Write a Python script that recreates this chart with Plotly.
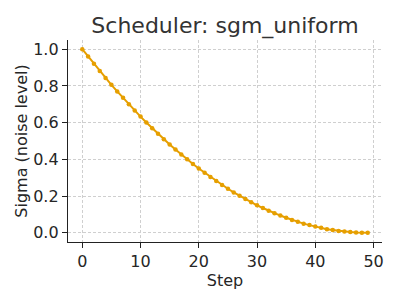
import plotly.graph_objects as go

steps = [0, 1, 2, 3, 4, 5, 6, 7, 8, 9,
         10, 11, 12, 13, 14, 15, 16, 17, 18, 19,
         20, 21, 22, 23, 24, 25, 26, 27, 28, 29,
         30, 31, 32, 33, 34, 35, 36, 37, 38, 39,
         40, 41, 42, 43, 44, 45, 46, 47, 48, 49]
sigmas = [1.000, 0.960, 0.920, 0.881, 0.843, 0.806, 0.770, 0.735, 0.700, 0.666,
          0.633, 0.601, 0.570, 0.540, 0.510, 0.481, 0.454, 0.426, 0.400, 0.375,
          0.350, 0.327, 0.304, 0.282, 0.260, 0.240, 0.220, 0.202, 0.184, 0.167,
          0.150, 0.135, 0.120, 0.107, 0.094, 0.082, 0.070, 0.060, 0.050, 0.042,
          0.034, 0.027, 0.020, 0.015, 0.010, 0.007, 0.004, 0.002, 0.000, 0.000]
x_ticks = [0, 10, 20, 30, 40, 50]
y_ticks = [0.0, 0.2, 0.4, 0.6, 0.8, 1.0]

color = "#E69F00"
font = "DejaVu Sans"
text_color = "#262626"

fig = go.Figure()
fig.add_trace(go.Scatter(
    x=steps, y=sigmas, mode="lines+markers",
    line=dict(color=color, width=2),
    marker=dict(color=color, size=4.5),
    showlegend=False,
))

axis_common = dict(
    showline=True, linecolor="#222222", linewidth=1.3,
    ticks="outside", ticklen=5, tickwidth=1.1, tickcolor="#222222",
    showgrid=True, gridcolor="#cfcfcf", gridwidth=0.8, griddash="3px,2px",
    zeroline=False, mirror=False,
    tickfont=dict(family=font, size=16, color=text_color),
)

fig.update_layout(
    width=400, height=300,
    margin=dict(l=68, r=18, t=40, b=58),
    paper_bgcolor="white", plot_bgcolor="white",
    font=dict(family=font, color=text_color),
    title=dict(text="Scheduler: sgm_uniform", x=0.5, xref="paper", xanchor="center",
               y=0.915, yanchor="middle",
               font=dict(family=font, size=22, color="#333333")),
    xaxis=dict(range=[-2.45, 51.45], tickvals=x_ticks,
               ticktext=[str(v) for v in x_ticks],
               title=dict(text="Step", font=dict(family=font, size=16, color=text_color), standoff=0),
               **axis_common),
    yaxis=dict(range=[-0.05, 1.05], tickvals=y_ticks,
               ticktext=[f"{v:.1f}" for v in y_ticks],
               title=dict(text="Sigma (noise level)", font=dict(family=font, size=16, color=text_color), standoff=1),
               **axis_common),
)

fig.write_html("out.html")
